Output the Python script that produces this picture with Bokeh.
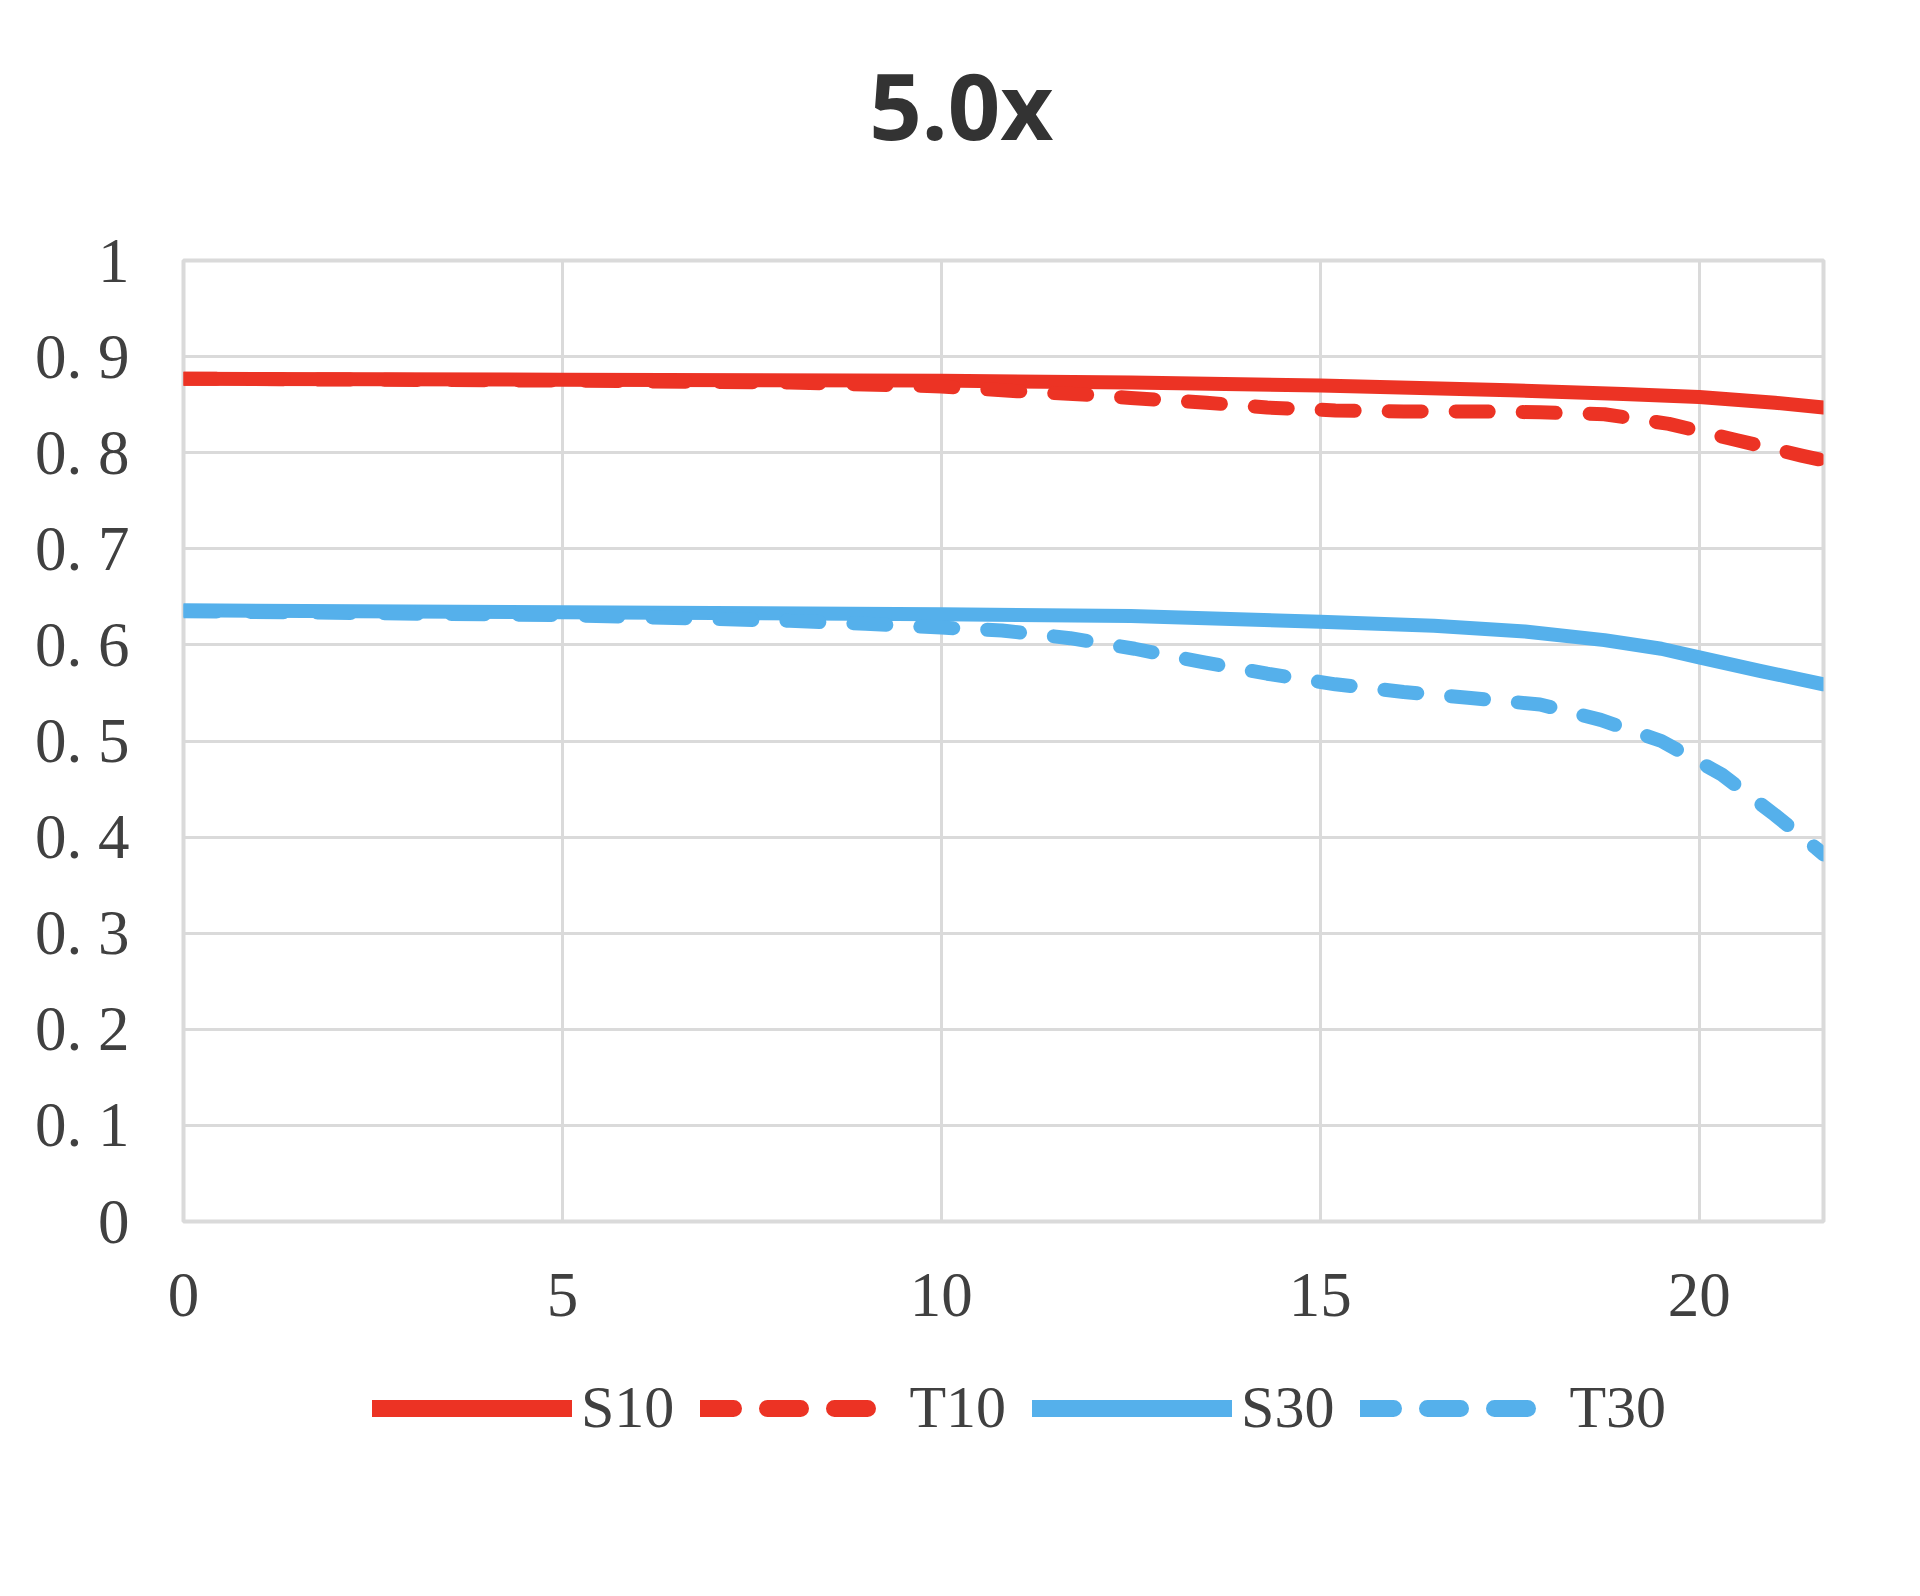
from bokeh.plotting import figure
from bokeh.models import FixedTicker, Range1d, Legend, LegendItem
from bokeh.layouts import column
from bokeh.core.properties import value
from bokeh.embed import file_html
from bokeh.resources import INLINE

# ---- data ----
s10_x = [0, 5, 10, 12.5, 15, 17.5, 19, 20, 21, 21.64]
s10_y = [0.877, 0.876, 0.875, 0.873, 0.870, 0.865, 0.861, 0.858, 0.852, 0.847]

t10_x = [0, 5, 8, 10, 11, 12, 12.5, 13.5, 14.3, 15.2, 16.1, 17, 17.9, 18.75, 19.6, 20.5, 21.35, 21.64]
t10_y = [0.877, 0.875, 0.873, 0.869, 0.864, 0.860, 0.857, 0.852, 0.847, 0.844, 0.843, 0.843, 0.842, 0.840, 0.830, 0.813, 0.797, 0.792]

s30_x = [0, 5, 10, 12.5, 15, 16.5, 17.7, 18.75, 19.5, 20, 20.8, 21.64]
s30_y = [0.636, 0.634, 0.632, 0.630, 0.624, 0.620, 0.614, 0.605, 0.596, 0.587, 0.573, 0.559]

t30_x = [0, 5, 8, 9, 10, 10.8, 11.7, 12.55, 13.45, 14.3, 15.2, 16.1, 16.95, 17.9, 18.7, 19.5, 20.3, 21.0, 21.55, 21.64]
t30_y = [0.635, 0.631, 0.625, 0.622, 0.618, 0.615, 0.607, 0.596, 0.582, 0.570, 0.559, 0.551, 0.545, 0.538, 0.522, 0.500, 0.465, 0.423, 0.388, 0.382]

x_ticks = [0, 5, 10, 15, 20]
y_ticks = [0, 0.1, 0.2, 0.3, 0.4, 0.5, 0.6, 0.7, 0.8, 0.9, 1.0]
y_tick_labels = ["0", "0. 1", "0. 2", "0. 3", "0. 4", "0. 5", "0. 6", "0. 7", "0. 8", "0. 9", "1"]
series_names = ["S10", "T10", "S30", "T30"]
title_text = "5.0x"

RED = "#EC3324"
BLUE = "#55B0EB"
GRID = "#DADADA"
TXT = "#404040"
SERIF = "Liberation Serif"
LW = 14
DASH = "33 34"
series = [
    (s10_x, s10_y, RED, "solid"),
    (t10_x, t10_y, RED, DASH),
    (s30_x, s30_y, BLUE, "solid"),
    (t30_x, t30_y, BLUE, DASH),
]

W = 1904
# ---- title strip (pixel coordinates) ----
TH = 200
tf = figure(width=W, height=TH, output_backend="svg", toolbar_location=None,
            x_range=Range1d(0, W), y_range=Range1d(0, TH), min_border=0,
            x_axis_location=None, y_axis_location=None)
tf.grid.visible = False
tf.outline_line_color = None
tf.text(x=[903], y=[96], text=[title_text], text_align="center",
        text_baseline="alphabetic", text_font=value("Noto Sans"),
        text_font_size="92px", text_font_style="bold", text_color="#333333")

# ---- main chart ----
TOP, FRAME_H, BOT = 60, 961, 140
p = figure(width=W, height=TOP + FRAME_H + BOT, output_backend="svg", toolbar_location=None,
           x_range=Range1d(0, 21.64), y_range=Range1d(0, 1))
p.min_border_left = 183
p.min_border_right = 81
p.min_border_top = TOP
p.min_border_bottom = BOT

p.outline_line_color = GRID
p.outline_line_width = 4

for ax in (p.xaxis[0], p.yaxis[0]):
    ax.axis_line_color = None
    ax.major_tick_line_color = None
    ax.minor_tick_line_color = None
    ax.major_tick_in = 0
    ax.major_tick_out = 0
    ax.major_label_text_font = SERIF
    ax.major_label_text_font_size = "63px"
    ax.major_label_text_color = TXT

p.xaxis[0].ticker = FixedTicker(ticks=x_ticks)
p.xaxis[0].major_label_standoff = 52
p.yaxis[0].ticker = FixedTicker(ticks=y_ticks)
p.yaxis[0].major_label_overrides = {v: l for v, l in zip(y_ticks, y_tick_labels)}
p.yaxis[0].major_label_standoff = 54

p.xgrid[0].ticker = FixedTicker(ticks=x_ticks)
p.ygrid[0].ticker = FixedTicker(ticks=y_ticks)
for g in (p.xgrid[0], p.ygrid[0]):
    g.grid_line_color = GRID
    g.grid_line_width = 3

for xs, ys, c, d in series:
    p.line(xs, ys, line_color=c, line_width=LW, line_cap="round", line_join="round", line_dash=d)

# ---- legend strip: same series, drawn outside its view so only the legend keys show ----
LH = 1580 - TH - (TOP + FRAME_H + BOT)
lf = figure(width=W, height=LH, output_backend="svg", toolbar_location=None,
            x_range=Range1d(0, 1), y_range=Range1d(5, 6), min_border=0,
            x_axis_location=None, y_axis_location=None)
lf.grid.visible = False
lf.outline_line_color = None
lrs = [lf.line(xs, ys, line_color=c, line_width=LW + 3, line_cap="round", line_join="round", line_dash=d)
       for xs, ys, c, d in series]
legend = Legend(items=[LegendItem(label=n, renderers=[r]) for n, r in zip(series_names, lrs)],
                orientation="horizontal", location=(189, LH - 81),
                glyph_width=200, glyph_height=40, label_standoff=9, spacing=26,
                label_text_font=SERIF, label_text_font_size="60px", label_text_color=TXT,
                border_line_color=None, background_fill_alpha=0, margin=0, padding=0)
lf.add_layout(legend, "center")

layout = column(tf, p, lf, spacing=0)
open("out.html", "w").write(file_html(layout, INLINE))
